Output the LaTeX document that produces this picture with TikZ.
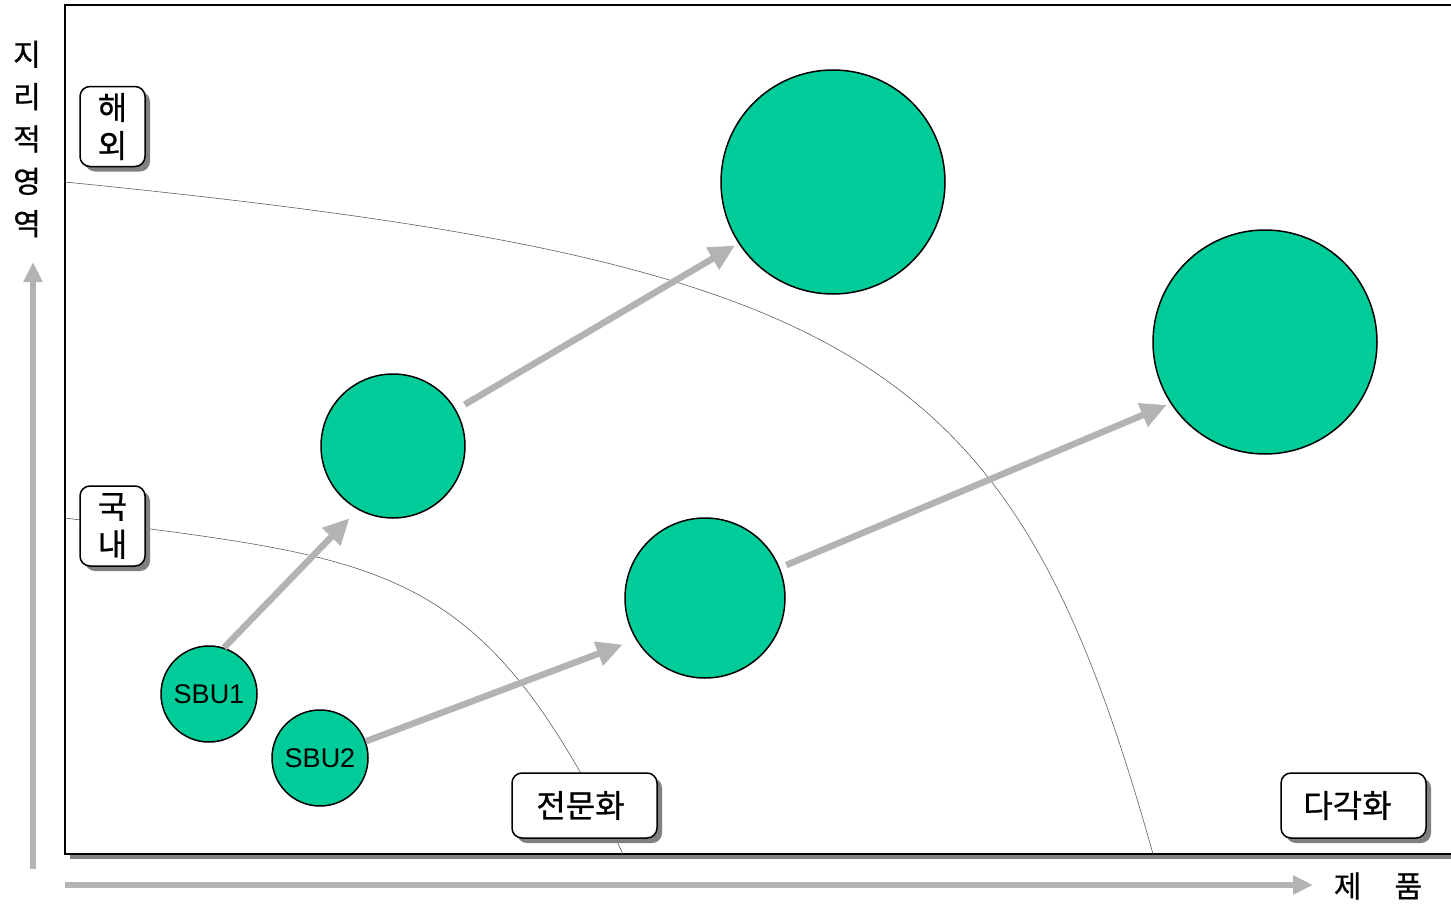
\documentclass[tikz,border=0pt]{standalone}
\usepackage{fontspec}
\setmainfont{Liberation Sans}
\newfontfamily\kr[FakeBold=0.7]{Noto Sans CJK KR}
\usetikzlibrary{arrows.meta,shadows}

\definecolor{bubblegreen}{HTML}{00CC99}
\definecolor{arrowgray}{HTML}{B3B3B3}
\definecolor{shadowgray}{HTML}{808080}
\definecolor{curvegray}{HTML}{606060}

\tikzset{
  boxshadow/.style={drop shadow={shadow xshift=5pt,shadow yshift=-5pt,fill=shadowgray,opacity=1}},
  bubble/.style={circle,draw=black,line width=1.5pt,fill=bubblegreen,inner sep=0pt,minimum size=#1},
  tagbox/.style={draw=black,line width=1.5pt,fill=white,rounded corners=10pt,inner sep=0pt,
    boxshadow,align=center,font=\kr\fontsize{32}{38}\selectfont},
  flow/.style={draw=arrowgray,line width=6.5pt,-{Triangle[length=26pt,width=24pt]}},
  axisline/.style={draw=arrowgray,line width=6pt,-{Triangle[length=20pt,width=18pt]}},
  boundary/.style={draw=curvegray,line width=0.6pt},
}

\begin{document}
\begin{tikzpicture}[x=1pt,y=-1pt]
\useasboundingbox (0,0) rectangle (1451,907);
\clip (0,0) rectangle (1451,907);

% chart frame with its shadow
\path[draw=black,line width=2pt,fill=white,boxshadow] (65,5) rectangle (1475,854);

% market boundaries
\draw[boundary] (65,182) .. controls (865,262) and (1013,354) .. (1153,854);
\draw[boundary] (65,518) .. controls (390,560) and (480,560) .. (623,854);

% axes
\coordinate (yfoot) at (33,869);
\coordinate (yhead) at (33,262);
\coordinate (xfoot) at (65,885);
\coordinate (xhead) at (1313,885);
\draw[axisline] (yfoot) -- (yhead);
\draw[axisline] (xfoot) -- (xhead);
\node[font=\kr\fontsize{30}{42.4}\selectfont,align=center,inner sep=0pt] (ylab) at (27,139) {지\\리\\적\\영\\역};
\node[font=\kr\fontsize{30}{30}\selectfont,inner sep=0pt] (xlab) at (1378,886) {제\hspace{33pt}품};

% business units and their growth
\node[bubble=96pt,font=\fontsize{27}{27}\selectfont] (sbu1) at (209,694) {SBU1};
\node[bubble=96pt,font=\fontsize{27}{27}\selectfont] (sbu2) at (320,758) {SBU2};
\node[bubble=144pt] (c3) at (393,446) {};
\node[bubble=160pt] (c4) at (705,598) {};
\node[bubble=224pt] (c5) at (833,182) {};
\node[bubble=224pt] (c6) at (1265,342) {};

\draw[flow,shorten >=12pt] (sbu1.72) -- (c3.241);
\draw[flow,shorten >=14pt] (sbu2.20) -- (c4.211);
\draw[flow,shorten <=10pt,shorten >=4pt] (c3.30) -- (c5.213);
\draw[flow,shorten <=7pt,shorten >=4pt] (c4.22) -- (c6.213);

% region and strategy tags
\node[tagbox,minimum width=65pt,minimum height=80pt] (abroad) at (112.5,126.5) {해\\외};
\node[tagbox,minimum width=65pt,minimum height=80pt] (domestic) at (112.5,526) {국\\내};
\node[tagbox,minimum width=145pt,minimum height=65pt] (focus) at (584.5,805.5) {전문화\kern8pt};
\node[tagbox,minimum width=145pt,minimum height=65pt] (diverse) at (1353.5,805.5) {다각화\kern12pt};
\end{tikzpicture}
\end{document}
